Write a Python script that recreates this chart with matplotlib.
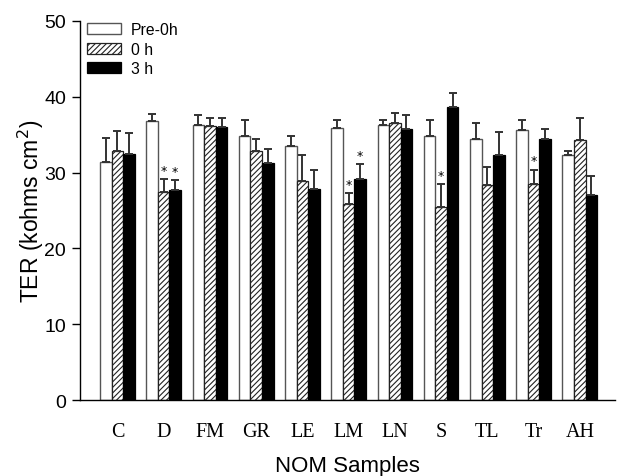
import matplotlib
matplotlib.use("Agg")
import matplotlib.pyplot as plt
import numpy as np

categories = ["C", "D", "FM", "GR", "LE", "LM", "LN", "S", "TL", "Tr", "AH"]
pre0h = [31.4, 36.8, 36.3, 34.8, 33.5, 35.9, 36.3, 34.8, 34.4, 35.6, 32.3]
pre0h_err = [3.1, 0.9, 1.3, 2.2, 1.3, 1.1, 0.7, 2.1, 2.2, 1.3, 0.5]
h0 = [32.9, 27.4, 36.2, 32.9, 28.9, 25.8, 36.5, 25.4, 28.3, 28.5, 34.3]
h0_err = [2.6, 1.7, 1.0, 1.5, 3.4, 1.5, 1.3, 3.1, 2.4, 1.9, 2.9]
h3 = [32.5, 27.7, 36.0, 31.3, 27.9, 29.2, 35.8, 38.7, 32.3, 34.4, 27.0]
h3_err = [2.7, 1.3, 1.2, 1.8, 2.4, 1.9, 1.8, 1.8, 3.0, 1.3, 2.6]
star_0h = [False, True, False, False, False, True, False, True, False, True, False]
star_3h = [False, True, False, False, False, True, False, False, False, False, False]

plt.rcParams['hatch.linewidth'] = 0.8
fig = plt.figure(figsize=(6.17, 4.77), dpi=100)
ax = fig.add_axes([0.1297, 0.1593, 0.867, 0.7946])

x = np.arange(len(categories))
w = 0.25
ekw = dict(ecolor="#333333", elinewidth=1.4, capsize=2.8, capthick=1.4)
ax.bar(x - w, pre0h, w, color="white", edgecolor="#555555", linewidth=1.0,
       yerr=[np.zeros(len(x)), pre0h_err], error_kw=ekw, label="Pre-0h")
ax.bar(x, h0, w, color="white", edgecolor="#222222", linewidth=0.9, hatch="//////",
       yerr=[np.zeros(len(x)), h0_err], error_kw=ekw, label="0 h")
ax.bar(x + w, h3, w, color="black", edgecolor="black", linewidth=0.9,
       yerr=[np.zeros(len(x)), h3_err], error_kw=ekw, label="3 h")

for i in range(len(x)):
    if star_0h[i]:
        ax.text(x[i], h0[i] + h0_err[i] + 0.3, "*", ha="center", va="bottom", fontsize=9)
    if star_3h[i]:
        ax.text(x[i] + w, h3[i] + h3_err[i] + 0.3, "*", ha="center", va="bottom", fontsize=9)

ax.set_ylim(0, 50)
ax.set_xlim(-0.81, 10.76)
ax.set_yticks([0, 10, 20, 30, 40, 50])
ax.set_xticks(x)
ax.set_xticklabels(categories, fontfamily="Liberation Serif", fontsize=14.5)
ax.tick_params(axis="x", length=0, pad=16)
ax.tick_params(axis="y", length=6, width=1, direction="out", labelsize=14, pad=4)
for lab in ax.get_yticklabels():
    lab.set_fontfamily("Liberation Sans")
for s in ["top", "right"]:
    ax.spines[s].set_visible(False)
ax.spines["left"].set_linewidth(1)
ax.spines["bottom"].set_linewidth(1)

ax.set_ylabel("TER (kohms cm$^2$)", fontfamily="Liberation Sans", fontsize=16.5)
ax.yaxis.set_label_coords(-0.064, 0.5)
ax.set_xlabel("NOM Samples", fontfamily="Liberation Sans", fontsize=16)
ax.xaxis.set_label_coords(0.5, -0.172)
ax.xaxis.label.set_va("center")

leg = ax.legend(loc="upper left", bbox_to_anchor=(-0.013, 1.035), frameon=False,
                prop={"family": "Liberation Sans", "size": 11.3},
                handlelength=2.17, handleheight=0.7, labelspacing=0.3, handletextpad=0.6)

fig.savefig("out.png", dpi=100)
